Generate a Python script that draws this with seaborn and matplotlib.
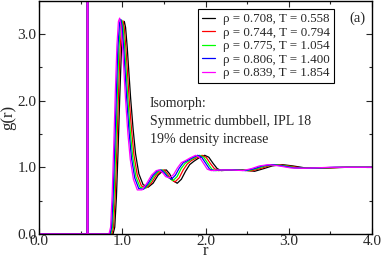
import matplotlib
matplotlib.use("Agg")
import matplotlib.pyplot as plt
import numpy as np
import pandas as pd
import seaborn as sns

# state points on the isomorph
labels = ["ρ = 0.708, T = 0.558", "ρ = 0.744, T = 0.794", "ρ = 0.775, T = 1.054",
          "ρ = 0.806, T = 1.400", "ρ = 0.839, T = 1.854"]
colors = ["black", "red", "#00ff00", "blue", "#ff00ff"]

# intramolecular bond peak (same for all states)
r_bond = [0.0, 0.578, 0.581, 0.586, 0.589]
g_bond = [0.0, 0.0, 40.0, 40.0, 0.0]

r_708 = [0.89, 0.91, 0.93, 0.95, 0.97, 0.99, 1.01, 1.025, 1.04, 1.06, 1.08, 1.10, 1.13, 1.16, 1.20,
         1.25, 1.31, 1.37, 1.43, 1.49, 1.53, 1.57, 1.61, 1.66, 1.71, 1.76, 1.81, 1.86, 1.92, 1.99,
         2.04, 2.09, 2.14, 2.19, 2.30, 2.45, 2.59, 2.70, 2.80, 2.92, 3.05, 3.20, 3.35, 3.50, 3.70, 4.00]
g_708 = [0, 0.10, 0.55, 1.25, 2.05, 2.75, 3.12, 3.19, 3.10, 2.80, 2.42, 2.05, 1.58, 1.20, 0.90,
         0.74, 0.70, 0.76, 0.88, 0.95, 0.96, 0.90, 0.80, 0.76, 0.82, 0.94, 1.04, 1.09, 1.14, 1.18,
         1.15, 1.06, 0.98, 0.95, 0.96, 0.96, 0.94, 0.98, 1.02, 1.04, 1.02, 0.99, 0.985, 0.99, 1.00, 1.00]

r_744 = [0.876, 0.895, 0.915, 0.935, 0.954, 0.974, 0.994, 1.009, 1.023, 1.043, 1.063, 1.082, 1.112, 1.141, 1.181,
         1.230, 1.289, 1.348, 1.407, 1.466, 1.506, 1.545, 1.584, 1.633, 1.683, 1.732, 1.781, 1.830, 1.889, 1.958,
         2.007, 2.057, 2.106, 2.155, 2.263, 2.411, 2.549, 2.657, 2.755, 2.873, 3.001, 3.149, 3.296, 3.444, 3.641, 4.00]
g_744 = [0, 0.10, 0.56, 1.27, 2.07, 2.77, 3.14, 3.20, 3.11, 2.81, 2.42, 2.04, 1.56, 1.18, 0.88,
         0.72, 0.69, 0.76, 0.88, 0.95, 0.96, 0.90, 0.82, 0.78, 0.84, 0.96, 1.05, 1.10, 1.14, 1.18,
         1.15, 1.06, 0.98, 0.95, 0.96, 0.96, 0.945, 0.98, 1.02, 1.04, 1.02, 0.99, 0.985, 0.99, 1.00, 1.00]

r_775 = [0.863, 0.883, 0.902, 0.922, 0.941, 0.960, 0.980, 0.994, 1.009, 1.028, 1.048, 1.067, 1.096, 1.125, 1.164,
         1.213, 1.271, 1.329, 1.387, 1.445, 1.484, 1.523, 1.562, 1.610, 1.659, 1.707, 1.756, 1.804, 1.862, 1.930,
         1.979, 2.027, 2.076, 2.124, 2.231, 2.377, 2.512, 2.619, 2.716, 2.832, 2.959, 3.104, 3.250, 3.395, 3.589, 4.00]
g_775 = [0, 0.10, 0.57, 1.29, 2.09, 2.79, 3.15, 3.21, 3.12, 2.82, 2.42, 2.03, 1.54, 1.16, 0.86,
         0.70, 0.68, 0.76, 0.88, 0.95, 0.96, 0.91, 0.84, 0.80, 0.86, 0.98, 1.06, 1.10, 1.14, 1.18,
         1.15, 1.06, 0.97, 0.95, 0.96, 0.96, 0.95, 0.98, 1.02, 1.04, 1.02, 0.99, 0.985, 0.99, 1.00, 1.00]

r_806 = [0.853, 0.872, 0.891, 0.910, 0.929, 0.948, 0.968, 0.982, 0.996, 1.015, 1.035, 1.054, 1.083, 1.111, 1.150,
         1.198, 1.255, 1.312, 1.370, 1.427, 1.466, 1.504, 1.542, 1.590, 1.638, 1.686, 1.734, 1.782, 1.839, 1.906,
         1.954, 2.002, 2.050, 2.098, 2.203, 2.347, 2.481, 2.587, 2.682, 2.797, 2.922, 3.066, 3.209, 3.353, 3.545, 4.00]
g_806 = [0, 0.10, 0.58, 1.31, 2.11, 2.81, 3.17, 3.22, 3.13, 2.83, 2.42, 2.02, 1.52, 1.14, 0.84,
         0.68, 0.67, 0.76, 0.88, 0.95, 0.96, 0.92, 0.86, 0.82, 0.88, 0.99, 1.07, 1.10, 1.14, 1.18,
         1.15, 1.06, 0.97, 0.95, 0.96, 0.96, 0.95, 0.98, 1.02, 1.04, 1.02, 0.99, 0.985, 0.99, 1.00, 1.00]

r_839 = [0.841, 0.860, 0.879, 0.898, 0.917, 0.936, 0.954, 0.969, 0.983, 1.002, 1.021, 1.040, 1.068, 1.096, 1.134,
         1.181, 1.238, 1.295, 1.351, 1.408, 1.446, 1.484, 1.521, 1.569, 1.616, 1.663, 1.710, 1.758, 1.814, 1.881,
         1.928, 1.975, 2.022, 2.070, 2.174, 2.315, 2.448, 2.552, 2.646, 2.759, 2.882, 3.024, 3.166, 3.308, 3.497, 4.00]
g_839 = [0, 0.10, 0.59, 1.33, 2.13, 2.83, 3.19, 3.24, 3.14, 2.84, 2.42, 2.01, 1.50, 1.12, 0.82,
         0.66, 0.66, 0.76, 0.88, 0.95, 0.96, 0.92, 0.86, 0.84, 0.89, 0.99, 1.07, 1.10, 1.14, 1.18,
         1.15, 1.06, 0.97, 0.95, 0.96, 0.96, 0.95, 0.98, 1.02, 1.04, 1.02, 0.99, 0.985, 0.99, 1.00, 1.00]

r_all = [r_708, r_744, r_775, r_806, r_839]
g_all = [g_708, g_744, g_775, g_806, g_839]

sns.set_style("ticks")
plt.rcParams['font.family'] = ['Liberation Serif', 'DejaVu Serif']

fig = plt.figure(figsize=(3.82, 2.59), dpi=100)
ax = fig.add_axes([0.102, 0.097, 0.872, 0.900])

for lab, col, rr, gg in zip(labels, colors, r_all, g_all):
    df = pd.DataFrame({"r": r_bond + rr, "g": g_bond + gg})
    sns.lineplot(data=df, x="r", y="g", sort=False, estimator=None, color=col,
                 lw=0.9, label=lab, ax=ax)

ax.set_xlim(0, 4)
ax.set_ylim(0, 3.5)
ax.set_xticks([0, 1, 2, 3, 4])
ax.set_xticklabels(["0.0", "1.0", "2.0", "3.0", "4.0"])
ax.set_xticks(np.arange(0.5, 4, 1.0), minor=True)
ax.set_yticks([0, 1, 2, 3])
ax.set_yticklabels(["0.0", "1.0", "2.0", "3.0"])
ax.set_yticks([0.5, 1.5, 2.5], minor=True)
ax.tick_params(which="both", direction="in", top=True, right=True, labelsize=11)
ax.tick_params(axis="x", pad=1)
ax.tick_params(axis="y", pad=2)
ax.tick_params(which="major", length=4, width=0.8)
ax.tick_params(which="minor", length=2, width=0.8)
for s in ax.spines.values():
    s.set_linewidth(1.0)
    s.set_color("black")

ax.set_xlabel("r", fontsize=12, va="center")
ax.xaxis.set_label_coords(0.5, -0.075)
ax.set_ylabel("g(r)", fontsize=12, labelpad=1)

leg = ax.legend(loc="upper right", bbox_to_anchor=(0.885, 0.963), fontsize=9.4,
                handlelength=1.0, handletextpad=0.6, labelspacing=0.1,
                borderpad=0.3, borderaxespad=0.0, frameon=True, fancybox=False, framealpha=1)
leg.get_frame().set_edgecolor("black")
leg.get_frame().set_linewidth(0.8)

ax.text(0.98, 0.955, "(a)", transform=ax.transAxes, ha="right", va="top", fontsize=10.5)
ax.text(1.33, 2.05, "Isomorph:\nSymmetric dumbbell, IPL 18\n19% density increase",
        ha="left", va="top", fontsize=10, linespacing=1.5)

fig.savefig("out.png", dpi=100)
